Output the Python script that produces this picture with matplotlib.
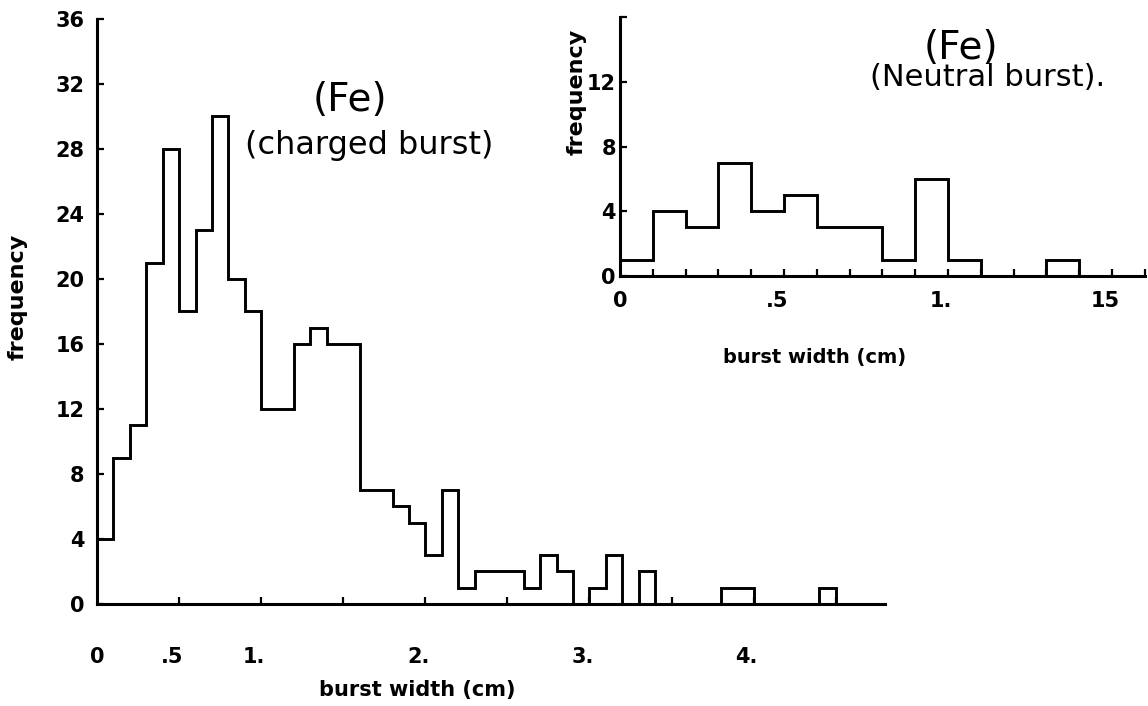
# burst width histograms for Fe, charged and neutral bursts

import numpy as np
import matplotlib.pyplot as plt

# main histogram: charged bursts, bins of 0.1 cm from 0 to 4.8 cm
bin_width = 0.1
charged_counts = [4, 9, 11, 21, 28, 18, 23, 30, 20, 18,
                  12, 12, 16, 17, 16, 16, 7, 7, 6, 5,
                  3, 7, 1, 2, 2, 2, 1, 3, 2, 0,
                  1, 3, 0, 2, 0, 0, 0, 0, 1, 1,
                  0, 0, 0, 0, 1, 0, 0, 0]
charged_xlabels = {0.0: '0', 0.5: '.5', 1.0: '1.', 2.0: '2.', 3.0: '3.', 4.0: '4.'}
charged_xticks = [0.5, 1.0, 1.5, 2.0, 2.5, 3.0, 3.5, 4.0, 4.5]
charged_yticks = [0, 4, 8, 12, 16, 20, 24, 28, 32, 36]

# inset histogram: neutral bursts, bins of 0.1 cm from 0 to 1.6 cm
neutral_counts = [1, 4, 3, 7, 4, 5, 3, 3, 1, 6, 1, 0, 0, 1, 0, 0]
neutral_xlabels = {0.0: '0', 0.5: '.5', 1.0: '1.', 1.5: '15'}
neutral_yticks = [0, 4, 8, 12, 16]
neutral_ylabels = ['0', '4', '8', '12', '']

plt.rcParams['font.family'] = ['DejaVu Sans']
lw_axis = 2.2
lw_hist = 2.1

fig = plt.figure(figsize=(11.48, 7.06), dpi=100)


def style_axes(ax, ylabel_pad, size):
    for side in ['top', 'right']:
        ax.spines[side].set_visible(False)
    for side in ['left', 'bottom']:
        ax.spines[side].set_linewidth(lw_axis)
    ax.patch.set_alpha(0)
    ax.tick_params(axis='both', direction='in', length=5, width=1.6, labelsize=size)
    ax.tick_params(axis='y', pad=ylabel_pad)
    for lab in ax.get_yticklabels():
        lab.set_fontweight('bold')


def put_xlabels(ax, labels, dy, size):
    # labels sit a little left of their tick, like the hand lettering
    for x, lab in labels.items():
        dx = 0 if x == 0 else -5
        ax.annotate(lab, xy=(x, 0), xycoords='data', xytext=(dx, dy), textcoords='offset points',
                    ha='center', va='center', fontsize=size, fontweight='bold')


# main plot
ax = fig.add_axes([0.0845, 0.1445, 0.6864, 0.8286])
edges = np.arange(len(charged_counts) + 1) * bin_width
ax.stairs(charged_counts, edges, color='black', linewidth=lw_hist, baseline=0)
ax.set_xlim(0, len(charged_counts) * bin_width)
ax.set_ylim(0, 36)
ax.set_xticks(charged_xticks)
ax.set_xticklabels([''] * len(charged_xticks))
ax.set_yticks(charged_yticks)
style_axes(ax, ylabel_pad=9, size=15)
put_xlabels(ax, charged_xlabels, -38, 15)

ax.text(0.321, 0.861, '(Fe)', transform=ax.transAxes, fontsize=28, ha='center', va='center')
ax.text(0.346, 0.783, '(charged burst)', transform=ax.transAxes, fontsize=23, ha='center', va='center')

fig.text(18 / 1148, 1 - 297 / 706, 'frequency', rotation=90, ha='center', va='center',
         fontsize=16, fontweight='bold')
fig.text(417 / 1148, 1 - 690 / 706, 'burst width (cm)', ha='center', va='center',
         fontsize=15, fontweight='bold')

# inset plot
axi = fig.add_axes([0.540, 0.609, 0.4573, 0.3669])
edges_n = np.arange(len(neutral_counts) + 1) * bin_width
axi.stairs(neutral_counts, edges_n, color='black', linewidth=lw_hist, baseline=0)
axi.set_xlim(0, len(neutral_counts) * bin_width)
axi.set_ylim(0, 16)
axi.set_xticks(edges_n[1:])
axi.set_xticklabels([''] * len(edges_n[1:]))
axi.set_yticks(neutral_yticks)
axi.set_yticklabels(neutral_ylabels)
style_axes(axi, ylabel_pad=3, size=15)
put_xlabels(axi, neutral_xlabels, -18, 15)

axi.text(0.65, 0.88, '(Fe)', transform=axi.transAxes, fontsize=28, ha='center', va='center')
axi.text(0.70, 0.765, '(Neutral burst).', transform=axi.transAxes, fontsize=22, ha='center', va='center')

fig.text(577 / 1148, 1 - 92 / 706, 'frequency', rotation=90, ha='center', va='center',
         fontsize=16, fontweight='bold')
fig.text(815 / 1148, 1 - 358 / 706, 'burst width (cm)', ha='center', va='center',
         fontsize=14, fontweight='bold')

fig.savefig('out.png', dpi=100)
